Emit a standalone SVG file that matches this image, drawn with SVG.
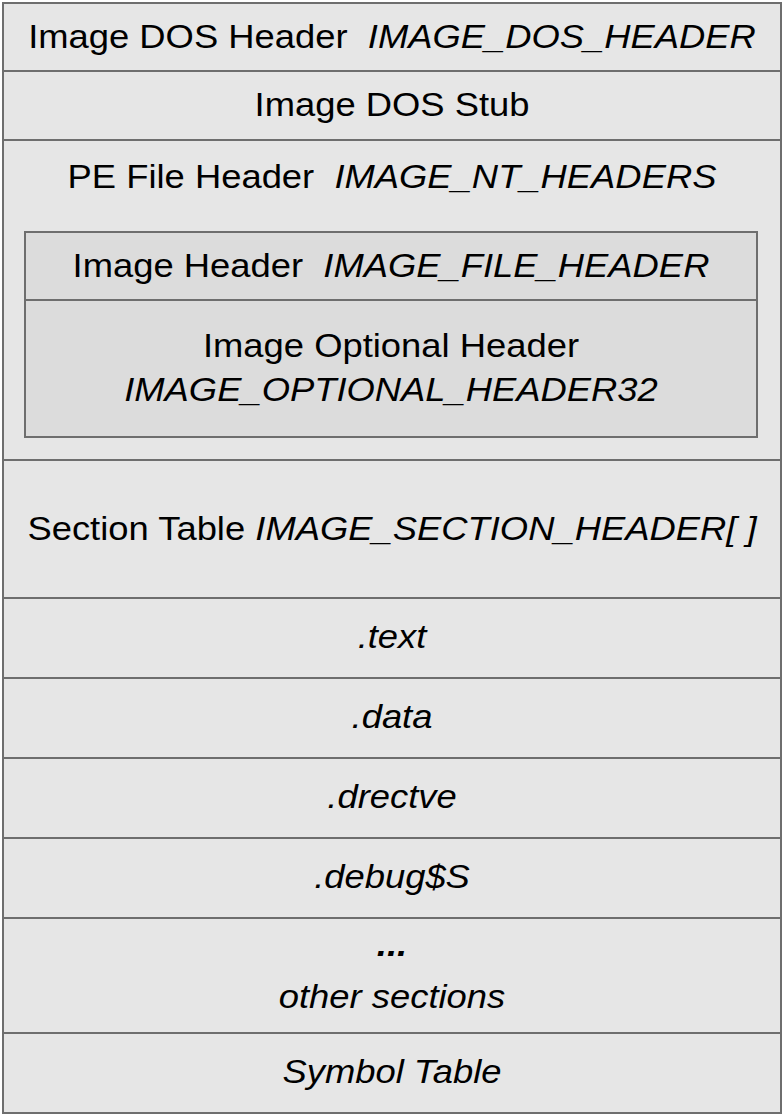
<svg xmlns="http://www.w3.org/2000/svg" width="784" height="1117" viewBox="0 0 784 1117">
<style>
.row{fill:#e6e6e6;stroke:#6e6e6e;stroke-width:2}
.inner{fill:#dcdcdc;stroke:#6e6e6e;stroke-width:2}
.t{font-family:"Liberation Sans",Arial,sans-serif;font-size:34px;fill:#000;text-anchor:middle}
.i{font-style:italic}
</style>
<rect x="0" y="0" width="784" height="1117" fill="#ffffff"/>
<g id="dos-header"><rect class="row" x="3" y="3" width="778" height="68"/><text class="t" transform="translate(392,48) scale(1.07,1)" xml:space="preserve">Image DOS Header  <tspan class="i">IMAGE_DOS_HEADER</tspan></text></g>
<g id="dos-stub"><rect class="row" x="3" y="71" width="778" height="69"/><text class="t" transform="translate(392,116) scale(1.07,1)">Image DOS Stub</text></g>
<g id="pe-header"><rect class="row" x="3" y="140" width="778" height="320"/><text class="t" transform="translate(392,188) scale(1.07,1)" xml:space="preserve">PE File Header  <tspan class="i">IMAGE_NT_HEADERS</tspan></text></g>
<g id="image-header"><rect class="inner" x="25" y="232" width="732" height="68"/><text class="t" transform="translate(391,277) scale(1.07,1)" xml:space="preserve">Image Header  <tspan class="i">IMAGE_FILE_HEADER</tspan></text></g>
<g id="optional-header"><rect class="inner" x="25" y="300" width="732" height="137"/><text class="t" transform="translate(391,357) scale(1.07,1)">Image Optional Header</text><text class="t i" transform="translate(391,401) scale(1.07,1)">IMAGE_OPTIONAL_HEADER32</text></g>
<g id="section-table"><rect class="row" x="3" y="460" width="778" height="138"/><text class="t" transform="translate(392,540) scale(1.07,1)">Section Table <tspan class="i">IMAGE_SECTION_HEADER[ ]</tspan></text></g>
<g id="text"><rect class="row" x="3" y="598" width="778" height="80"/><text class="t i" transform="translate(392,648) scale(1.07,1)">.text</text></g>
<g id="data"><rect class="row" x="3" y="678" width="778" height="80"/><text class="t i" transform="translate(392,728) scale(1.07,1)">.data</text></g>
<g id="drectve"><rect class="row" x="3" y="758" width="778" height="80"/><text class="t i" transform="translate(392,808) scale(1.07,1)">.drectve</text></g>
<g id="debug"><rect class="row" x="3" y="838" width="778" height="80"/><text class="t i" transform="translate(392,888) scale(1.07,1)">.debug$S</text></g>
<g id="other"><rect class="row" x="3" y="918" width="778" height="115"/><text class="t i" transform="translate(392,956) scale(1.07,1)" font-weight="bold">...</text><text class="t i" transform="translate(392,1008) scale(1.07,1)">other sections</text></g>
<g id="symbol-table"><rect class="row" x="3" y="1033" width="778" height="80"/><text class="t i" transform="translate(392,1083) scale(1.07,1)">Symbol Table</text></g>
<g id="connectors"></g>
</svg>
